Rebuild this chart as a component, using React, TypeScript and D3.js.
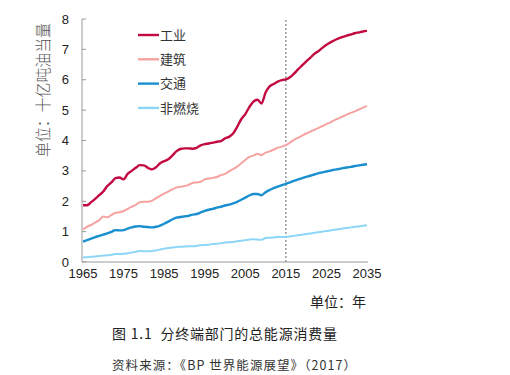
import React from "react";
import * as d3 from "d3";

const years: number[] = d3.range(1965, 2036);

const industry: number[] = [
  1.87, 1.87, 1.97, 2.08, 2.2, 2.32, 2.5, 2.62, 2.76, 2.78,
  2.72, 2.9, 3.0, 3.1, 3.19, 3.18, 3.1, 3.05, 3.12, 3.25,
  3.32, 3.38, 3.5, 3.64, 3.72, 3.74, 3.74, 3.73, 3.76, 3.84,
  3.88, 3.9, 3.93, 3.96, 3.98, 4.07, 4.12, 4.23, 4.45, 4.7,
  4.87, 5.1, 5.28, 5.34, 5.22, 5.58, 5.78, 5.86, 5.94, 5.99,
  6.01, 6.08, 6.2, 6.34, 6.47, 6.6, 6.72, 6.85, 6.94, 7.05,
  7.15, 7.23, 7.3, 7.36, 7.41, 7.45, 7.49, 7.53, 7.56, 7.59, 7.61,
];

const buildings: number[] = [
  1.07, 1.16, 1.22, 1.3, 1.38, 1.5, 1.47, 1.55, 1.62, 1.64,
  1.68, 1.75, 1.82, 1.88, 1.97, 1.98, 1.98, 2.02, 2.1, 2.18,
  2.25, 2.32, 2.39, 2.45, 2.48, 2.5, 2.54, 2.6, 2.62, 2.64,
  2.72, 2.75, 2.77, 2.8, 2.86, 2.9, 2.98, 3.06, 3.14, 3.25,
  3.36, 3.46, 3.5, 3.56, 3.52, 3.6, 3.64, 3.7, 3.76, 3.8,
  3.85, 3.93, 4.02, 4.09, 4.16, 4.23, 4.29, 4.35, 4.41, 4.47,
  4.54, 4.6, 4.67, 4.73, 4.79, 4.85, 4.91, 4.96, 5.02, 5.08, 5.14,
];

const transport: number[] = [
  0.67, 0.72, 0.77, 0.82, 0.86, 0.9, 0.94, 0.99, 1.05, 1.04,
  1.05, 1.1, 1.14, 1.17, 1.18, 1.16, 1.15, 1.14, 1.16, 1.2,
  1.26, 1.33, 1.4, 1.46, 1.48, 1.5, 1.52, 1.56, 1.58, 1.63,
  1.68, 1.72, 1.75, 1.79, 1.82, 1.86, 1.89, 1.93, 1.98, 2.05,
  2.12, 2.19, 2.24, 2.24, 2.2, 2.3, 2.37, 2.43, 2.48, 2.53,
  2.57, 2.62, 2.67, 2.72, 2.76, 2.8, 2.84, 2.88, 2.92, 2.95,
  2.98, 3.01, 3.04, 3.06, 3.09, 3.11, 3.13, 3.16, 3.18, 3.2, 3.22,
];

const nonCombusted: number[] = [
  0.15, 0.16, 0.17, 0.18, 0.2, 0.21, 0.22, 0.24, 0.26, 0.26,
  0.27, 0.29, 0.31, 0.34, 0.36, 0.35, 0.35, 0.36, 0.38, 0.41,
  0.44, 0.46, 0.48, 0.49, 0.5, 0.51, 0.52, 0.52, 0.53, 0.55,
  0.56, 0.57, 0.59, 0.6, 0.62, 0.64, 0.65, 0.66, 0.68, 0.7,
  0.72, 0.74, 0.75, 0.74, 0.73, 0.79, 0.8, 0.81, 0.82, 0.82,
  0.83, 0.84, 0.86, 0.88, 0.9, 0.92, 0.94, 0.96, 0.98, 1.0,
  1.02, 1.04, 1.06, 1.08, 1.1, 1.12, 1.14, 1.16, 1.17, 1.19, 1.21,
];

const seriesNames: string[] = ["工业", "建筑", "交通", "非燃烧"];
const seriesColors: string[] = ["#C20A40", "#F5A3A0", "#1A8FD0", "#8ED6F5"];
const seriesWidths: number[] = [2.4, 2, 2.4, 2];
const yTicks: number[] = [0, 1, 2, 3, 4, 5, 6, 7, 8];
const xTicks: number[] = [1965, 1975, 1985, 1995, 2005, 2015, 2025, 2035];
const forecastYear = 2015;

const yTitle = "单位：十亿吨油当量";
const xUnit = "单位：年";
const caption = "图 1.1  分终端部门的总能源消费量";
const source = "资料来源：《BP 世界能源展望》（2017）";

export default function App() {
  const W = 510;
  const H = 375;
  const x = d3.scaleLinear().domain([1965, 2035]).range([83, 367]);
  const y = d3.scaleLinear().domain([0, 8]).range([262, 19]);
  const allSeries = [industry, buildings, transport, nonCombusted];
  const line = d3
    .line<number>()
    .x((_, i) => x(years[i]))
    .y((d) => y(d))
    .curve(d3.curveMonotoneX);
  const tickFont = "'Liberation Sans', Arial, sans-serif";
  const cjk = "'Noto Sans CJK SC', sans-serif";

  return (
    <svg
      width={W}
      height={H}
      style={{ position: "absolute", left: 0, top: 0, background: "#fff" }}
    >
      {/* axes */}
      <line x1={82} x2={82} y1={y(8)} y2={y(0)} stroke="#999" strokeWidth={1} />
      <line x1={82} x2={368} y1={y(0)} y2={y(0)} stroke="#999" strokeWidth={1} />
      {yTicks.map((t) => (
        <g key={t}>
          <line x1={82} x2={86} y1={y(t)} y2={y(t)} stroke="#999" strokeWidth={1} />
          <text
            x={69}
            y={y(t)}
            dy="0.35em"
            textAnchor="end"
            fontFamily={tickFont}
            fontSize={13}
            fill="#222"
          >
            {t}
          </text>
        </g>
      ))}
      {xTicks.map((t) => (
        <text
          key={t}
          x={x(t)}
          y={278}
          textAnchor="middle"
          fontFamily={tickFont}
          fontSize={13}
          fill="#222"
        >
          {t}
        </text>
      ))}
      {/* forecast divider */}
      <line
        x1={x(forecastYear)}
        x2={x(forecastYear)}
        y1={20}
        y2={y(0)}
        stroke="#999"
        strokeWidth={1.5}
        strokeDasharray="2,2"
      />
      {/* lines */}
      {allSeries.map((s, i) => (
        <path
          key={i}
          d={line(s) || ""}
          fill="none"
          stroke={seriesColors[i]}
          strokeWidth={seriesWidths[i]}
          strokeLinejoin="round"
        />
      ))}
      {/* legend */}
      {seriesNames.map((n, i) => (
        <g key={n} transform={`translate(138, ${35 + i * 24.3})`}>
          <line x1={0} x2={21} y1={0} y2={0} stroke={seriesColors[i]} strokeWidth={2.4} />
          <text x={22} y={0} dy="0.36em" fontFamily={cjk} fontSize={13} fill="#333">
            {n}
          </text>
        </g>
      ))}
      {/* y title */}
      <text
        transform={`translate(43, 157) rotate(-90)`}
        textAnchor="start"
        dy="0.35em"
        fontFamily={cjk}
        fontSize={16}
        fontWeight={300}
        fill="#555"
        textLength={134}
        lengthAdjust="spacingAndGlyphs"
      >
        {yTitle}
      </text>
      {/* x unit */}
      <text x={310} y={307} fontFamily={cjk} fontSize={14} fill="#222">
        {xUnit}
      </text>
      <text
        x={112}
        y={339}
        fontFamily={cjk}
        fontSize={14}
        fill="#222"
        style={{ whiteSpace: "pre" }}
        textLength={225}
        lengthAdjust="spacing"
      >
        {caption}
      </text>
      <text
        x={112}
        y={370}
        fontFamily={cjk}
        fontSize={12.5}
        fill="#333"
        textLength={244}
        lengthAdjust="spacing"
      >
        {source}
      </text>
    </svg>
  );
}
